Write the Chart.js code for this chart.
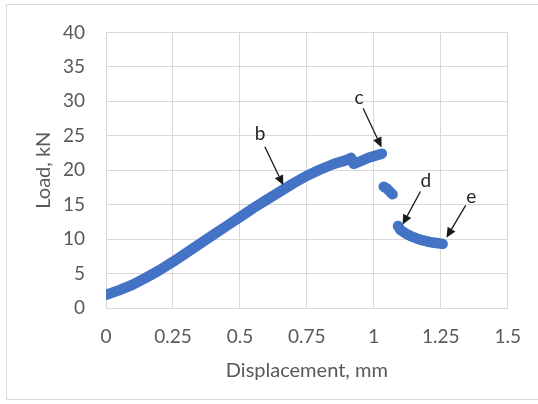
<!DOCTYPE html>
<html>
<head>
<meta charset="utf-8">
<script src="https://cdn.jsdelivr.net/npm/chart.js@4/dist/chart.umd.min.js"></script>
<style>
  html, body { margin: 0; padding: 0; background: #ffffff; }
  #wrap { position: relative; width: 538px; height: 404px; }
</style>
</head>
<body>
<div id="wrap"><canvas id="c" width="538" height="404"></canvas></div>
<script>
// Loading branch up to the peak (includes the small load drop near 0.92 mm)
const dispRise = [0.0, 0.05, 0.10, 0.15, 0.20, 0.25, 0.30, 0.35, 0.40, 0.45, 0.50, 0.55, 0.60, 0.65, 0.70, 0.75, 0.80, 0.85, 0.90, 0.915, 0.925, 0.95, 0.98, 1.005, 1.03];
const loadRise = [1.9, 2.6, 3.4, 4.4, 5.5, 6.7, 8.0, 9.3, 10.6, 11.9, 13.2, 14.5, 15.7, 16.9, 18.1, 19.2, 20.1, 20.9, 21.5, 21.8, 20.9, 21.3, 21.8, 22.1, 22.4];
// Short segment right after the first failure
const dispDrop = [1.037, 1.05, 1.06, 1.07];
const loadDrop = [17.6, 17.3, 16.9, 16.5];
// Residual branch
const dispLow = [1.09, 1.10, 1.12, 1.14, 1.16, 1.18, 1.20, 1.22, 1.24, 1.257];
const loadLow = [11.9, 11.3, 10.8, 10.4, 10.1, 9.85, 9.65, 9.5, 9.4, 9.3];

// Axis ticks
const xTicks = [0, 0.25, 0.5, 0.75, 1, 1.25, 1.5];
const yTicks = [0, 5, 10, 15, 20, 25, 30, 35, 40];

// Callout labels: text, label position, arrow start, arrow tip (data units)
const calloutText = ['b', 'c', 'd', 'e'];
const calloutLabel = [[0.575, 25.2], [0.945, 30.5], [1.194, 18.4], [1.364, 16.1]];
const calloutFrom = [[0.593, 23.4], [0.960, 29.0], [1.174, 16.9], [1.343, 14.9]];
const calloutTo = [[0.662, 17.8], [1.029, 23.3], [1.107, 12.1], [1.271, 10.2]];

const BLUE = '#4472c4';
const GRID = '#d9d9d9';
const TEXT = '#595959';
const FONT = 'Lato, "Open Sans", sans-serif';

function pts(xs, ys) { return xs.map((x, i) => ({ x: x, y: ys[i] })); }

function seriesStyle(data) {
  return {
    data: data,
    showLine: true,
    borderColor: BLUE,
    backgroundColor: BLUE,
    borderWidth: 10.5,
    borderCapStyle: 'round',
    borderJoinStyle: 'round',
    pointRadius: 0,
    pointHoverRadius: 0,
    tension: 0
  };
}

const frame = {
  id: 'frame',
  beforeDraw(chart) {
    const ctx = chart.ctx;
    ctx.save();
    ctx.fillStyle = '#ffffff';
    ctx.fillRect(0, 0, chart.width, chart.height);
    ctx.strokeStyle = GRID;
    ctx.lineWidth = 1;
    ctx.strokeRect(6.5, 4.5, 560, 395);
    ctx.restore();
  }
};

const callouts = {
  id: 'callouts',
  afterDatasetsDraw(chart) {
    const ctx = chart.ctx;
    const xs = chart.scales.x, ys = chart.scales.y;
    ctx.save();
    calloutText.forEach((t, i) => {
      const x0 = xs.getPixelForValue(calloutFrom[i][0]);
      const y0 = ys.getPixelForValue(calloutFrom[i][1]);
      const x1 = xs.getPixelForValue(calloutTo[i][0]);
      const y1 = ys.getPixelForValue(calloutTo[i][1]);
      const ang = Math.atan2(y1 - y0, x1 - x0);
      const headLen = 10, headW = 4.5;
      const bx = x1 - headLen * Math.cos(ang), by = y1 - headLen * Math.sin(ang);
      ctx.strokeStyle = '#1a1a1a';
      ctx.fillStyle = '#1a1a1a';
      ctx.lineWidth = 1.3;
      ctx.beginPath();
      ctx.moveTo(x0, y0);
      ctx.lineTo(bx, by);
      ctx.stroke();
      ctx.beginPath();
      ctx.moveTo(x1, y1);
      ctx.lineTo(bx + headW * Math.sin(ang), by - headW * Math.cos(ang));
      ctx.lineTo(bx - headW * Math.sin(ang), by + headW * Math.cos(ang));
      ctx.closePath();
      ctx.fill();
      ctx.fillStyle = '#262626';
      ctx.font = '19px ' + FONT;
      ctx.textAlign = 'center';
      ctx.textBaseline = 'middle';
      ctx.fillText(t, xs.getPixelForValue(calloutLabel[i][0]), ys.getPixelForValue(calloutLabel[i][1]));
    });
    ctx.restore();
  }
};

new Chart(document.getElementById('c'), {
  type: 'scatter',
  data: {
    datasets: [
      seriesStyle(pts(dispRise, loadRise)),
      seriesStyle(pts(dispDrop, loadDrop)),
      seriesStyle(pts(dispLow, loadLow))
    ]
  },
  options: {
    responsive: false,
    animation: false,
    devicePixelRatio: 1,
    layout: { padding: { left: 0, top: 27.5, right: 30, bottom: 0 } },
    plugins: { legend: { display: false }, tooltip: { enabled: false } },
    scales: {
      x: {
        type: 'linear',
        min: 0, max: 1.5,
        afterBuildTicks(scale) { scale.ticks = xTicks.map(v => ({ value: v })); },
        afterFit(scale) { scale.height = 96; },
        grid: { color: GRID, lineWidth: 1, drawTicks: false },
        border: { color: GRID, width: 1 },
        ticks: {
          color: TEXT, padding: 17,
          font: { family: FONT, size: 19 },
          callback: v => String(v)
        },
        title: {
          display: true, text: 'Displacement, mm', color: TEXT,
          font: { family: FONT, size: 20 },
          padding: { top: 0, bottom: 21 }
        }
      },
      y: {
        type: 'linear',
        min: 0, max: 40,
        afterBuildTicks(scale) { scale.ticks = yTicks.map(v => ({ value: v })); },
        afterFit(scale) { scale.width = 106; },
        grid: { color: GRID, lineWidth: 1, drawTicks: false },
        border: { color: GRID, width: 1 },
        ticks: {
          color: TEXT, padding: 21,
          font: { family: FONT, size: 19 },
          callback: v => String(v)
        },
        title: {
          display: true, text: 'Load, kN', color: TEXT,
          font: { family: FONT, size: 20 },
          padding: { top: 32, bottom: 0 }
        }
      }
    }
  },
  plugins: [frame, callouts]
});
</script>
</body>
</html>
